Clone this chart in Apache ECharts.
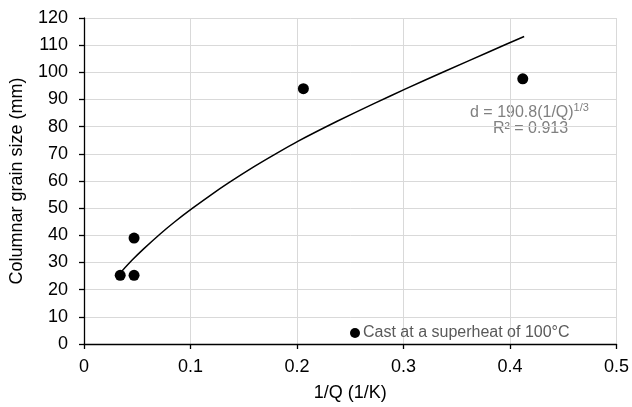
<!DOCTYPE html>
<html>
<head>
<meta charset="utf-8">
<script src="https://cdn.jsdelivr.net/npm/echarts@6/dist/echarts.min.js"></script>
<style>html,body{margin:0;padding:0;background:#fff}#c{width:632px;height:407px}</style>
</head>
<body>
<div id="c"></div>
<script>
// Measured data points (1/Q, grain size)
const xPts = [0.034, 0.047, 0.047, 0.206, 0.412];
const yPts = [25.3, 25.3, 39.0, 94.0, 97.6];
// Trend line
const trendX = [0.0355, 0.045, 0.056, 0.0715, 0.085, 0.1013, 0.12, 0.1357, 0.1593, 0.18, 0.2007, 0.2377, 0.2722, 0.302, 0.34, 0.38, 0.4133];
const trendY = [26.8, 30.8, 35.0, 40.5, 44.9, 49.8, 55.1, 59.3, 65.2, 70.0, 74.6, 82.0, 88.5, 93.9, 100.6, 107.5, 113.2];
const yTicks = [0, 10, 20, 30, 40, 50, 60, 70, 80, 90, 100, 110, 120];
const xTicks = [0, 0.1, 0.2, 0.3, 0.4, 0.5];

const font = 'Liberation Sans, Arial, sans-serif';
const chart = echarts.init(document.getElementById('c'));
chart.setOption({
  animation: false,
  backgroundColor: '#fff',
  grid: { left: 84, right: 15, top: 18, bottom: 62 },
  xAxis: {
    type: 'value', min: 0, max: 0.5, interval: 0.1,
    name: '1/Q (1/K)', nameLocation: 'middle', nameGap: 40,
    nameTextStyle: { fontFamily: font, fontSize: 18, color: '#000' },
    axisLine: { show: true, lineStyle: { color: '#000', width: 1.3 } },
    axisTick: { show: true, length: 5, lineStyle: { color: '#000', width: 1.3 } },
    axisLabel: { fontFamily: font, fontSize: 18, color: '#000', margin: 14,
      formatter: v => (xTicks.includes(+v.toFixed(1)) ? String(+v.toFixed(1)) : '') },
    splitLine: { show: true, lineStyle: { color: '#d9d9d9', width: 1 } }
  },
  yAxis: {
    type: 'value', min: 0, max: 120, interval: 10,
    name: 'Columnar grain size (mm)', nameLocation: 'middle', nameGap: 58,
    nameTextStyle: { fontFamily: font, fontSize: 18, color: '#000' },
    axisLine: { show: true, lineStyle: { color: '#000', width: 1.3 } },
    axisTick: { show: true, length: 5, lineStyle: { color: '#000', width: 1.3 } },
    axisLabel: { fontFamily: font, fontSize: 18, color: '#000', margin: 16,
      formatter: v => (yTicks.includes(v) ? String(v) : '') },
    splitLine: { show: true, lineStyle: { color: '#d9d9d9', width: 1 } }
  },
  legend: {
    data: [{ name: 'Cast at a superheat of 100\u00B0C', icon: 'circle' }],
    left: 345, top: 320, itemWidth: 10, itemHeight: 10, itemGap: 4,
    textStyle: { fontFamily: font, fontSize: 16, color: '#595959', padding: [0, 0, 0, -2] }
  },
  series: [
    {
      name: 'trend', type: 'line', smooth: 0.2, symbol: 'none',
      data: trendX.map((x, i) => [x, trendY[i]]),
      lineStyle: { color: '#000', width: 1.5 }, silent: true, z: 2
    },
    {
      name: 'Cast at a superheat of 100\u00B0C', type: 'scatter',
      data: xPts.map((x, i) => [x, yPts[i]]),
      symbol: 'circle', symbolSize: 11,
      itemStyle: { color: '#000', opacity: 1 }, z: 3
    }
  ],
  graphic: [
    {
      type: 'text', left: 470, top: 102,
      style: {
        text: '{a|d = 190.8(1/Q)}{s|1/3}',
        rich: {
          a: { fontFamily: font, fontSize: 16, fill: '#808080', color: '#808080' },
          s: { fontFamily: font, fontSize: 11, fill: '#808080', color: '#808080', verticalAlign: 'top', padding: [0, 0, 10, 0] }
        }
      }
    },
    {
      type: 'text', left: 493, top: 121,
      style: { text: 'R\u00B2 = 0.913', font: '16px ' + font, fill: '#808080' }
    }
  ]
});
</script>
</body>
</html>
